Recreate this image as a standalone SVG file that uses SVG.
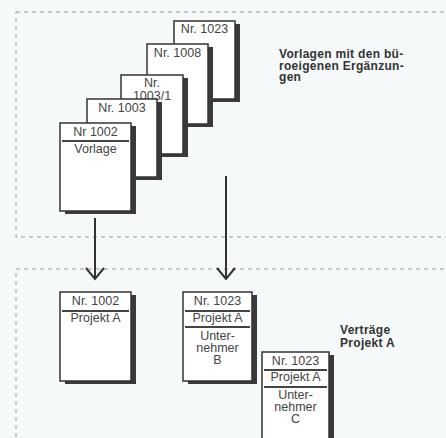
<svg xmlns="http://www.w3.org/2000/svg" width="446" height="438" viewBox="0 0 446 438">
<style>
.bg{fill:#f6f9fa}
.zone{fill:none;stroke:#9a9a9a;stroke-width:1;stroke-dasharray:4 4}
.card{fill:#ffffff;stroke:#333;stroke-width:1.5}
.shadow{fill:#3a3a3a}
.sep{stroke:#444;stroke-width:2}
.t{font-family:"Liberation Sans",Arial,sans-serif;font-size:12.5px;fill:#444;text-anchor:middle}
.lbl{font-family:"Liberation Sans",Arial,sans-serif;font-size:12px;font-weight:bold;fill:#333;letter-spacing:0.3px}
.arrow{stroke:#333;stroke-width:2;fill:none}
</style>
<rect class="bg" x="0" y="0" width="446" height="438"/>
<rect class="zone" x="16" y="12" width="440" height="225"/>
<rect class="zone" x="16" y="269" width="440" height="180"/>

<g id="card-1023-vorlage">
<rect class="shadow" x="179" y="24" width="61" height="78"/>
<rect class="card" x="174" y="21" width="61" height="78"/>
<text class="t" x="204.5" y="33">Nr.  1023</text>
</g>
<g id="card-1008">
<rect class="shadow" x="152" y="47" width="61" height="80"/>
<rect class="card" x="147" y="44" width="61" height="80"/>
<text class="t" x="177.5" y="57">Nr.  1008</text>
</g>
<g id="card-1003-1">
<rect class="shadow" x="126" y="78" width="62" height="79"/>
<rect class="card" x="121" y="75" width="62" height="79"/>
<text class="t" x="152" y="87">Nr.</text>
<text class="t" x="152" y="100">1003/1</text>
</g>
<g id="card-1003">
<rect class="shadow" x="92" y="102" width="70" height="78"/>
<rect class="card" x="87" y="99" width="70" height="78"/>
<text class="t" x="122" y="112">Nr.  1003</text>
</g>
<g id="card-1002-vorlage">
<rect class="shadow" x="65" y="126" width="71" height="88"/>
<rect class="card" x="60" y="123" width="71" height="88"/>
<text class="t" x="95.5" y="136">Nr 1002</text>
<line class="sep" x1="62" y1="141" x2="129" y2="141"/>
<text class="t" x="95.5" y="153">Vorlage</text>
</g>
<text class="lbl" x="279" y="58">Vorlagen mit den bü-</text>
<text class="lbl" x="279" y="69.5">roeigenen Ergänzun-</text>
<text class="lbl" x="279" y="81">gen</text>

<g id="connectors">
<line class="arrow" x1="95" y1="218" x2="95" y2="279"/>
<polyline class="arrow" points="86,268 95,279 104,268" stroke-width="2.5"/>
<line class="arrow" x1="226" y1="176" x2="226" y2="279"/>
<polyline class="arrow" points="217,268 226,279 235,268" stroke-width="2.5"/>
</g>

<g id="card-1002-projekt">
<rect class="shadow" x="65" y="295" width="71" height="89"/>
<rect class="card" x="60" y="292" width="71" height="89"/>
<text class="t" x="95.5" y="305">Nr. 1002</text>
<line class="sep" x1="62" y1="311" x2="129" y2="311"/>
<text class="t" x="95.5" y="322">Projekt A</text>
</g>
<g id="card-1023-b">
<rect class="shadow" x="188" y="295" width="69" height="89"/>
<rect class="card" x="183" y="292" width="69" height="89"/>
<text class="t" x="217.5" y="305">Nr.  1023</text>
<line class="sep" x1="185" y1="311" x2="250" y2="311"/>
<text class="t" x="217.5" y="322">Projekt A</text>
<line class="sep" x1="185" y1="327" x2="250" y2="327"/>
<text class="t" x="217.5" y="340">Unter-</text>
<text class="t" x="217.5" y="352">nehmer</text>
<text class="t" x="217.5" y="364">B</text>
</g>
<g id="card-1023-c">
<rect class="shadow" x="267" y="355" width="67" height="100"/>
<rect class="card" x="262" y="352" width="67" height="100"/>
<text class="t" x="295.5" y="365">Nr.  1023</text>
<line class="sep" x1="264" y1="370" x2="327" y2="370"/>
<text class="t" x="295.5" y="381">Projekt A</text>
<line class="sep" x1="264" y1="387" x2="327" y2="387"/>
<text class="t" x="295.5" y="399">Unter-</text>
<text class="t" x="295.5" y="411">nehmer</text>
<text class="t" x="295.5" y="423">C</text>
</g>
<text class="lbl" x="340" y="334">Verträge</text>
<text class="lbl" x="340" y="347">Projekt A</text>
</svg>
